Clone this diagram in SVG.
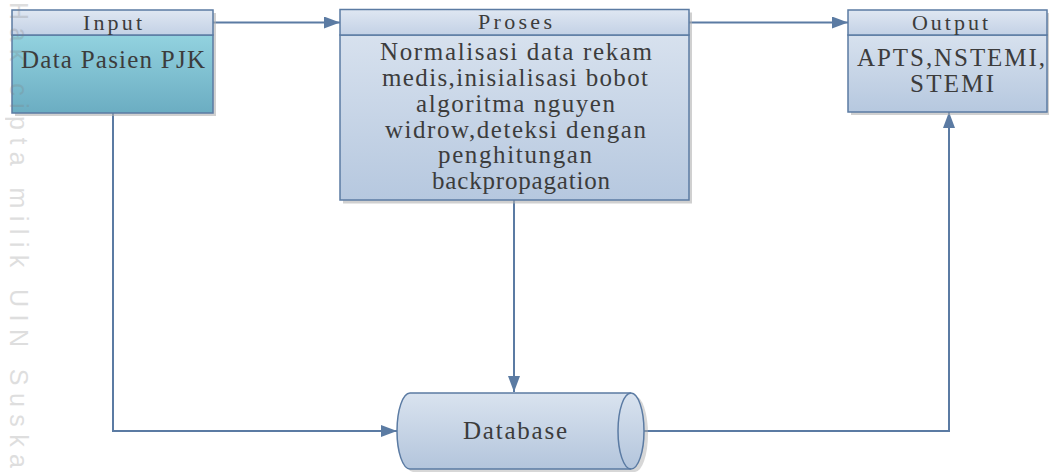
<svg xmlns="http://www.w3.org/2000/svg" width="1049" height="472" viewBox="0 0 1049 472">
<defs>
<linearGradient id="gHead" x1="0" y1="0" x2="0" y2="1"><stop offset="0" stop-color="#dfe7f2"/><stop offset="1" stop-color="#c3d1e5"/></linearGradient>
<linearGradient id="gBody" x1="0" y1="0" x2="0" y2="1"><stop offset="0" stop-color="#d7e1ee"/><stop offset="1" stop-color="#b6c8df"/></linearGradient>
<linearGradient id="gTeal" x1="0" y1="0" x2="0" y2="1"><stop offset="0" stop-color="#92d2df"/><stop offset="1" stop-color="#6badc2"/></linearGradient>
<linearGradient id="gDb" x1="0" y1="0" x2="0" y2="1"><stop offset="0" stop-color="#d9e3ef"/><stop offset="1" stop-color="#b3c5dc"/></linearGradient>
<marker id="arr" markerWidth="16" markerHeight="12" refX="16" refY="6" orient="auto" markerUnits="userSpaceOnUse"><path d="M0,0 L16,6 L0,12 Z" fill="#5b7ba3"/></marker>
</defs>
<style>
.box{stroke:#5b7ba3;stroke-width:1.5}
.sh{fill:#b0b0b0;opacity:0.6}
.t{font-family:"Liberation Serif","Times New Roman",serif;fill:#3c3c3c;text-anchor:middle}
.h{font-size:22px}
.b{font-size:25px}
.c{fill:none;stroke:#5b7ba3;stroke-width:2}
</style>
<rect width="1049" height="472" fill="#ffffff"/>
<g id="connectors">
<path class="c" d="M213,22.5 H340" marker-end="url(#arr)"/>
<path class="c" d="M689,22.5 H848" marker-end="url(#arr)"/>
<path class="c" d="M113,113 V431 H397" marker-end="url(#arr)"/>
<path class="c" d="M514,200 V392" marker-end="url(#arr)"/>
<path class="c" d="M644,431 H949 V112" marker-end="url(#arr)"/>
</g>
<g id="input">
<rect class="sh" x="15" y="13" width="201" height="103"/>
<rect class="box" x="12" y="35" width="201" height="78" fill="url(#gTeal)"/>
<rect class="box" x="12" y="10" width="201" height="25" fill="url(#gHead)"/>
<text class="t h" x="112.5" y="30" textLength="59" lengthAdjust="spacing">Input</text>
<text class="t b" x="113" y="68" textLength="184" lengthAdjust="spacing">Data Pasien PJK</text>
</g>
<g id="proses">
<rect class="sh" x="343" y="12.5" width="349" height="191"/>
<rect class="box" x="340" y="35" width="349" height="165" fill="url(#gBody)"/>
<rect class="box" x="340" y="9.5" width="349" height="25.5" fill="url(#gHead)"/>
<text class="t h" x="515" y="29" textLength="74" lengthAdjust="spacing">Proses</text>
<text class="t b" x="516" y="60" textLength="272" lengthAdjust="spacing">Normalisasi data rekam</text>
<text class="t b" x="515" y="86" textLength="266" lengthAdjust="spacing">medis,inisialisasi bobot</text>
<text class="t b" x="515.5" y="112" textLength="199" lengthAdjust="spacing">algoritma nguyen</text>
<text class="t b" x="515.5" y="138" textLength="261" lengthAdjust="spacing">widrow,deteksi dengan</text>
<text class="t b" x="515" y="163" textLength="154" lengthAdjust="spacing">penghitungan</text>
<text class="t b" x="521" y="189" textLength="178" lengthAdjust="spacing">backpropagation</text>
</g>
<g id="output">
<rect class="sh" x="851" y="13" width="199" height="102"/>
<rect class="box" x="848" y="35" width="199" height="77" fill="url(#gBody)"/>
<rect class="box" x="848" y="10" width="199" height="25" fill="url(#gHead)"/>
<text class="t h" x="950" y="30" textLength="76" lengthAdjust="spacing">Output</text>
<text class="t b" x="951" y="66" textLength="188" lengthAdjust="spacing">APTS,NSTEMI,</text>
<text class="t b" x="952" y="92" textLength="84" lengthAdjust="spacing">STEMI</text>
</g>
<g id="database">
<path d="M413,396 H635 A13,38 0 0 1 635,472 H413 A13,38 0 0 1 413,396 Z" fill="#b0b0b0" opacity="0.5"/>
<path class="box" d="M410,393 H631 A13,38 0 0 1 631,469 H410 A13,38 0 0 1 410,393 Z" fill="url(#gDb)"/>
<path class="box" d="M631,393 A13,38 0 0 0 631,469" fill="none"/>
<text class="t b" x="515" y="439" textLength="104" lengthAdjust="spacing">Database</text>
</g>
<text transform="translate(10,2) rotate(90)" x="0" y="0" font-family="'Liberation Sans',Arial,sans-serif" font-size="25" fill="#808080" opacity="0.25" textLength="466" lengthAdjust="spacing">Hak cipta milik UIN Suska</text>
</svg>
